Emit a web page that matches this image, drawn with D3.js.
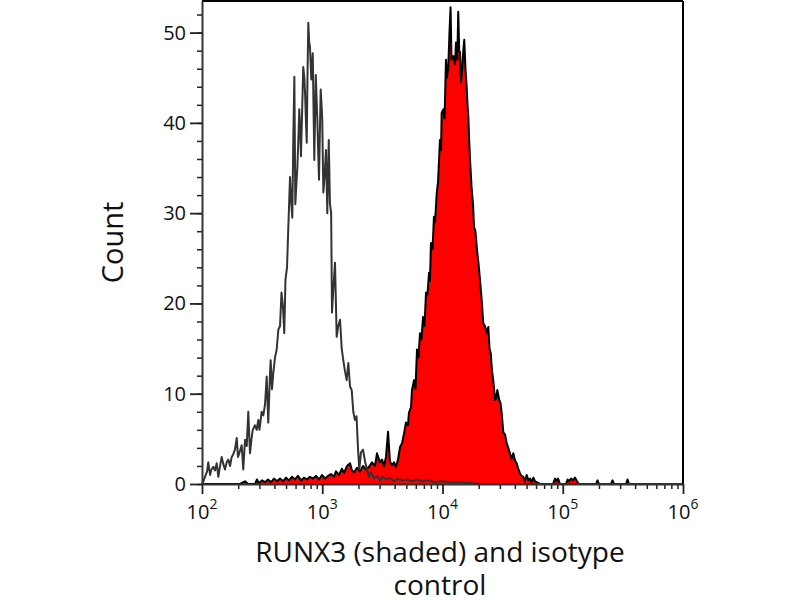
<!DOCTYPE html>
<html lang="en">
<head>
<meta charset="UTF-8">
<title>RUNX3 histogram</title>
<script src="https://d3js.org/d3.v7.min.js"></script>
<style>
  body { margin: 0; background: #fff; }
  text { font-family: "Open Sans", sans-serif; fill: #111; }
</style>
</head>
<body>
<div id="chart"></div>
<script>
var isoLog = [2.000, 2.012, 2.025, 2.042, 2.052, 2.067, 2.079, 2.094, 2.108, 2.122, 2.136, 2.150, 2.164, 2.177,
    2.191, 2.205, 2.219, 2.233, 2.247, 2.260, 2.274, 2.289, 2.299, 2.310, 2.330, 2.343, 2.358, 2.372, 2.385,
    2.399, 2.410, 2.422, 2.441, 2.455, 2.468, 2.478, 2.496, 2.510, 2.524, 2.538, 2.551, 2.565, 2.571, 2.582,
    2.593, 2.607, 2.621, 2.635, 2.649, 2.661, 2.674, 2.684, 2.694, 2.707, 2.718, 2.732, 2.743, 2.751, 2.759,
    2.768, 2.776, 2.784, 2.793, 2.801, 2.809, 2.817, 2.823, 2.834, 2.842, 2.851, 2.857, 2.865, 2.871, 2.877,
    2.884, 2.891, 2.898, 2.909, 2.921, 2.927, 2.934, 2.946, 2.952, 2.959, 2.966, 2.973, 2.987, 2.994, 3.000,
    3.009, 3.019, 3.031, 3.042, 3.054, 3.064, 3.074, 3.081, 3.094, 3.106, 3.120, 3.133, 3.148, 3.162, 3.175,
    3.189, 3.203, 3.217, 3.231, 3.245, 3.258, 3.272, 3.285, 3.297, 3.308, 3.322, 3.339, 3.356, 3.372, 3.389,
    3.405, 3.430, 3.455, 3.480, 3.505, 3.530, 3.563, 3.597, 3.630, 3.663, 3.705, 3.746, 3.788, 3.830, 3.879,
    3.938, 3.996, 4.062, 4.146, 4.229, 4.312, 6.000];
var isoCount = [0, 0.3, 0.8, 1.4, 2.4, 1.0, 1.6, 1.9, 1.5, 2.3, 0.8, 2.0, 3.0, 2.2,
    1.6, 2.4, 2.7, 2.0, 3.0, 3.3, 3.8, 5.1, 3.0, 3.4, 4.3, 1.6, 4.9, 4.2, 8.0,
    3.4, 4.8, 6.0, 6.5, 6.0, 7.1, 6.0, 8.0, 7.6, 8.8, 11.9, 6.8, 12.0, 13.7, 10.5,
    12.3, 14.0, 14.9, 17.1, 17.5, 21.2, 19.5, 16.7, 22.6, 24.0, 28.5, 34.0, 31.0, 29.5, 38.0,
    45.1, 31.0, 33.0, 35.1, 38.0, 41.5, 39.0, 36.3, 42.0, 46.2, 45.0, 43.3, 40.0, 37.8, 45.0,
    51.1, 49.0, 48.4, 44.8, 47.7, 42.0, 35.9, 45.3, 43.0, 40.4, 37.0, 33.7, 43.7, 42.0, 40.4,
    32.3, 34.0, 37.0, 30.0, 38.1, 31.1, 30.0, 19.0, 22.0, 24.5, 16.3, 17.5, 18.2, 15.0, 13.7,
    12.5, 11.5, 13.4, 10.8, 10.4, 8.0, 7.1, 7.5, 4.0, 1.6, 3.5, 3.8, 2.5, 1.6, 0.8,
    1.3, 0.6, 0.9, 0.4, 0.8, 0.5, 0.7, 0.3, 0.6, 0.4, 0.5, 0.3, 0.5, 0.3, 0.4,
    0.2, 0.3, 0.2, 0.2, 0.1, 0, 0];

var runxLog = [2.000, 2.316, 2.358, 2.383, 2.441, 2.457, 2.474, 2.499, 2.524, 2.549, 2.574, 2.599, 2.624, 2.649,
    2.674, 2.699, 2.723, 2.748, 2.773, 2.798, 2.823, 2.848, 2.873, 2.898, 2.923, 2.948, 2.973, 2.998,
    3.023, 3.048, 3.073, 3.098, 3.114, 3.139, 3.164, 3.181, 3.206, 3.231, 3.247, 3.264, 3.289, 3.314,
    3.339, 3.364, 3.389, 3.414, 3.439, 3.455, 3.480, 3.497, 3.514, 3.530, 3.547, 3.563, 3.580, 3.597,
    3.613, 3.630, 3.647, 3.663, 3.680, 3.696, 3.713, 3.721, 3.738, 3.746, 3.763, 3.775, 3.788, 3.800,
    3.813, 3.825, 3.838, 3.850, 3.863, 3.875, 3.888, 3.896, 3.904, 3.917, 3.929, 3.938, 3.952, 3.963,
    3.979, 3.988, 3.993, 4.007, 4.017, 4.029, 4.037, 4.048, 4.058, 4.067, 4.075, 4.090, 4.104, 4.112,
    4.123, 4.131, 4.139, 4.146, 4.154, 4.165, 4.173, 4.181, 4.191, 4.201, 4.208, 4.215, 4.222, 4.229,
    4.243, 4.254, 4.262, 4.274, 4.287, 4.299, 4.312, 4.326, 4.339, 4.353, 4.368, 4.381, 4.391, 4.401,
    4.412, 4.422, 4.437, 4.445, 4.456, 4.472, 4.482, 4.492, 4.506, 4.520, 4.534, 4.547, 4.561, 4.574,
    4.589, 4.603, 4.617, 4.630, 4.644, 4.657, 4.672, 4.686, 4.700, 4.715, 4.728, 4.740, 4.755, 4.769,
    4.783, 4.811, 4.919, 4.936, 4.948, 4.961, 4.977, 5.027, 5.040, 5.052, 5.069, 5.085, 5.102, 5.119,
    5.135, 5.277, 5.289, 5.301, 5.401, 5.414, 5.426, 5.526, 5.539, 5.551, 6.000];
var runxCount = [0, 0, 0.3, 0, 0, 0.5, 0.1, 0.4, 0.2, 0.5, 0.2, 0.6, 0.3, 0.6,
    0.3, 0.7, 0.4, 0.8, 0.5, 0.9, 0.4, 0.7, 0.5, 0.8, 0.6, 0.9, 0.5, 1.0,
    0.6, 0.9, 1.1, 0.8, 1.4, 1.0, 1.7, 1.2, 2.0, 2.3, 1.5, 1.3, 1.8, 1.4,
    2.0, 1.6, 1.9, 2.4, 2.0, 3.4, 2.4, 2.7, 2.0, 3.0, 5.8, 2.5, 2.1, 2.4,
    1.9, 2.7, 4.1, 4.5, 5.6, 6.8, 6.5, 7.9, 8.5, 10.4, 11.5, 10.5, 14.9, 14.0,
    16.7, 16.0, 18.5, 17.5, 21.2, 21.0, 23.4, 22.5, 26.7, 26.0, 29.6, 29.0, 32.2, 33.5,
    38.1, 37.0, 41.1, 41.5, 40.5, 47.0, 45.0, 46.2, 50.0, 52.8, 47.0, 47.4, 46.5, 48.9,
    47.0, 52.3, 48.0, 47.8, 44.5, 46.2, 48.0, 49.2, 46.0, 44.0, 42.0, 40.7, 38.0, 35.9,
    32.6, 31.0, 28.5, 28.0, 25.9, 24.5, 22.6, 20.4, 17.8, 17.5, 16.7, 17.4, 15.0, 14.5,
    12.5, 11.5, 9.3, 9.5, 10.4, 9.3, 9.0, 7.9, 5.7, 5.5, 4.5, 4.0, 3.4, 2.8,
    3.4, 2.6, 2.3, 1.7, 1.2, 0.9, 0.8, 0.3, 1.0, 0.4, 0.6, 0.2, 0.7, 0.3,
    0.2, 0, 0, 0.6, 0.3, 0.6, 0, 0, 0.5, 0.3, 0.6, 0.4, 0.7, 0.3,
    0, 0, 0.4, 0, 0, 0.4, 0, 0, 0.5, 0, 0];

var xMajor = [1e2, 1e3, 1e4, 1e5, 1e6];
var xExponents = ["2", "3", "4", "5", "6"];
var yMajor = [0, 10, 20, 30, 40, 50];
var xLabel = ["RUNX3 (shaded) and isotype", "control"];
var yLabel = "Count";

var width = 800, height = 600;
var plotLeft = 202, plotRight = 683, plotTop = 1, plotBottom = 484;

var svg = d3.select("#chart").append("svg")
    .attr("width", width)
    .attr("height", height);

var x = d3.scaleLog().domain([1e2, 1e6]).range([plotLeft, plotRight]);
var y = d3.scaleLinear().domain([0, 53.5]).range([plotBottom, plotTop]);

var iso = isoLog.map(function(l, i) { return {v: Math.pow(10, l), c: isoCount[i]}; });
var runx = runxLog.map(function(l, i) { return {v: Math.pow(10, l), c: runxCount[i]}; });

var line = d3.line()
    .x(function(d) { return x(d.v); })
    .y(function(d) { return y(d.c); });

var area = d3.area()
    .x(function(d) { return x(d.v); })
    .y0(y(0))
    .y1(function(d) { return y(d.c); });

// shaded RUNX3 histogram
svg.append("path")
    .datum(runx)
    .attr("d", area)
    .attr("fill", "#ff0000");

svg.append("path")
    .datum(runx)
    .attr("d", line)
    .attr("fill", "none")
    .attr("stroke", "#000")
    .attr("stroke-width", 2)
    .attr("stroke-linejoin", "round");

// isotype control outline
svg.append("path")
    .datum(iso)
    .attr("d", line)
    .attr("fill", "none")
    .attr("stroke", "#333")
    .attr("stroke-width", 2)
    .attr("stroke-linejoin", "round");

// frame: top and right
svg.append("line")
    .attr("x1", plotLeft).attr("x2", plotRight)
    .attr("y1", plotTop).attr("y2", plotTop)
    .attr("stroke", "#000").attr("stroke-width", 2);
svg.append("line")
    .attr("x1", plotRight).attr("x2", plotRight)
    .attr("y1", plotTop).attr("y2", plotBottom)
    .attr("stroke", "#000").attr("stroke-width", 2);

// x axis minor ticks
var xMinor = [];
[1e2, 1e3, 1e4, 1e5].forEach(function(d) {
    for (var k = 2; k <= 9; k++) xMinor.push(d * k);
});

svg.append("g")
    .attr("transform", "translate(0," + plotBottom + ")")
    .call(d3.axisBottom(x).tickValues(xMinor).tickSize(5).tickFormat(""))
    .call(function(g) { g.select(".domain").remove(); })
    .selectAll("line").attr("stroke", "#222").attr("stroke-width", 1.5);

var xAxis = svg.append("g")
    .attr("transform", "translate(0," + plotBottom + ")")
    .call(d3.axisBottom(x).tickValues(xMajor).tickSize(10).tickSizeOuter(0).tickFormat(""));
xAxis.select(".domain").attr("stroke", "#333").attr("stroke-width", 2);
xAxis.selectAll(".tick line").attr("stroke", "#222").attr("stroke-width", 1.8);

// x tick labels 10^n
var xt = svg.append("g").selectAll("text")
    .data(xMajor)
    .enter()
    .append("text")
    .attr("x", function(d) { return x(d); })
    .attr("y", 519)
    .attr("text-anchor", "middle")
    .style("font-size", "20px");
xt.append("tspan").text("10");
xt.append("tspan")
    .attr("dy", -10)
    .style("font-size", "14px")
    .text(function(d, i) { return xExponents[i]; });

// y axis
var yMinor = d3.range(0, 53, 2);
svg.append("g")
    .attr("transform", "translate(" + plotLeft + ",0)")
    .call(d3.axisLeft(y).tickValues(yMinor).tickSize(5).tickFormat(""))
    .call(function(g) { g.select(".domain").remove(); })
    .selectAll("line").attr("stroke", "#222").attr("stroke-width", 1.5);

var yAxis = svg.append("g")
    .attr("transform", "translate(" + plotLeft + ",0)")
    .call(d3.axisLeft(y).tickValues(yMajor).tickSize(12).tickSizeOuter(0).tickPadding(4));
yAxis.select(".domain").attr("stroke", "#333").attr("stroke-width", 2);
yAxis.selectAll(".tick line").attr("stroke", "#222").attr("stroke-width", 1.8);
yAxis.selectAll(".tick text")
    .style("font-family", "'Open Sans', sans-serif")
    .style("font-size", "20px")
    .attr("fill", "#111");

// axis titles
svg.append("text")
    .attr("transform", "translate(123," + ((plotTop + plotBottom) / 2) + ") rotate(-90)")
    .attr("text-anchor", "middle")
    .style("font-size", "29px")
    .text(yLabel);

svg.append("g").selectAll("text")
    .data(xLabel)
    .enter()
    .append("text")
    .attr("x", 440)
    .attr("y", function(d, i) { return 562 + i * 33; })
    .attr("text-anchor", "middle")
    .style("font-size", "28px")
    .text(function(d) { return d; });
</script>
</body>
</html>
